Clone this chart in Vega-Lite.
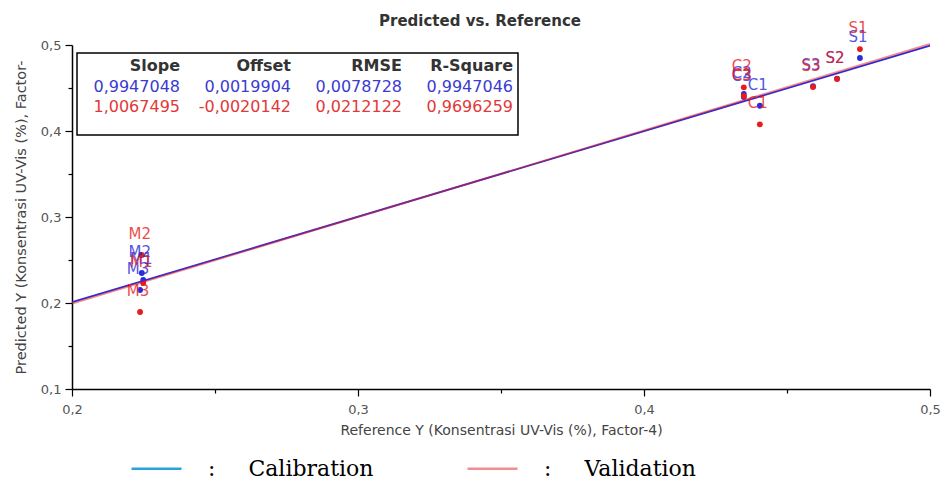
{
  "$schema": "https://vega.github.io/schema/vega-lite/v6.json",
  "width": 858,
  "height": 344,
  "autosize": {"type": "none"},
  "padding": {"left": 72, "top": 45, "right": 16, "bottom": 97},
  "background": "white",
  "config": {"view": {"stroke": null}, "font": "DejaVu Sans"},
  "title": {"text": "Predicted vs. Reference", "font": "DejaVu Sans", "fontSize": 15, "fontWeight": "bold", "color": "#333333", "anchor": "middle", "frame": "group", "dx": -21, "dy": 25, "offset": 17},
  "datasets": {
    "points": [
      {"sample": "M1", "set": "Calibration", "ref": 0.2249, "pred": 0.2267},
      {"sample": "M2", "set": "Calibration", "ref": 0.2244, "pred": 0.2349},
      {"sample": "M3", "set": "Calibration", "ref": 0.2238, "pred": 0.2151},
      {"sample": "C1", "set": "Calibration", "ref": 0.4405, "pred": 0.4294},
      {"sample": "C2", "set": "Calibration", "ref": 0.4349, "pred": 0.4430},
      {"sample": "C3", "set": "Calibration", "ref": 0.4349, "pred": 0.4395},
      {"sample": "S1", "set": "Calibration", "ref": 0.4755, "pred": 0.4849},
      {"sample": "S2", "set": "Calibration", "ref": 0.4675, "pred": 0.4610},
      {"sample": "S3", "set": "Calibration", "ref": 0.4591, "pred": 0.4520},
      {"sample": "M1", "set": "Validation", "ref": 0.2249, "pred": 0.2233},
      {"sample": "M2", "set": "Validation", "ref": 0.2244, "pred": 0.2558},
      {"sample": "M3", "set": "Validation", "ref": 0.2238, "pred": 0.1895},
      {"sample": "C1", "set": "Validation", "ref": 0.4405, "pred": 0.4078},
      {"sample": "C2", "set": "Validation", "ref": 0.4349, "pred": 0.4508},
      {"sample": "C3", "set": "Validation", "ref": 0.4349, "pred": 0.4407},
      {"sample": "S1", "set": "Validation", "ref": 0.4755, "pred": 0.4953},
      {"sample": "S2", "set": "Validation", "ref": 0.4675, "pred": 0.4605},
      {"sample": "S3", "set": "Validation", "ref": 0.4591, "pred": 0.4512}
    ],
    "lines": [
      {"set": "Calibration", "ref": 0.2, "pred": 0.2009},
      {"set": "Calibration", "ref": 0.5, "pred": 0.4993},
      {"set": "Validation", "ref": 0.2, "pred": 0.1993},
      {"set": "Validation", "ref": 0.5, "pred": 0.5014}
    ],
    "table": [
      {"stat": "Slope", "set": "header", "text": "Slope"},
      {"stat": "Offset", "set": "header", "text": "Offset"},
      {"stat": "RMSE", "set": "header", "text": "RMSE"},
      {"stat": "R-Square", "set": "header", "text": "R-Square"},
      {"stat": "Slope", "set": "Calibration", "text": "0,9947048"},
      {"stat": "Offset", "set": "Calibration", "text": "0,0019904"},
      {"stat": "RMSE", "set": "Calibration", "text": "0,0078728"},
      {"stat": "R-Square", "set": "Calibration", "text": "0,9947046"},
      {"stat": "Slope", "set": "Validation", "text": "1,0067495"},
      {"stat": "Offset", "set": "Validation", "text": "-0,0020142"},
      {"stat": "RMSE", "set": "Validation", "text": "0,0212122"},
      {"stat": "R-Square", "set": "Validation", "text": "0,9696259"}
    ]
  },
  "layer": [
    {
      "layer": [
        {
          "data": {"values": [{}]},
          "mark": {"type": "rect", "fill": "white", "stroke": "black", "strokeWidth": 1.5},
          "encoding": {
            "x": {"datum": 0.20175, "type": "quantitative"},
            "x2": {"datum": 0.35594},
            "y": {"datum": 0.4907, "type": "quantitative"},
            "y2": {"datum": 0.3953}
          }
        },
        {
          "data": {"name": "points"},
          "mark": {"type": "circle", "size": 34, "opacity": 1, "strokeWidth": 0},
          "encoding": {
            "x": {
              "field": "ref", "type": "quantitative",
              "scale": {"domain": [0.2, 0.5], "nice": false, "zero": false},
              "axis": {
                "values": [0.2, 0.25, 0.3, 0.35, 0.4, 0.45, 0.5],
                "labelExpr": "round(datum.value*20) % 2 == 1 ? '' : replace(format(datum.value, '.1f'), '.', ',')",
                "tickSize": {"condition": {"test": "round(datum.value*20) % 2 == 1", "value": 4}, "value": 7},
                "grid": false, "domainColor": "black", "tickColor": "black", "domainWidth": 1.5, "tickWidth": 1.2,
                "labelColor": "#555555", "labelFontSize": 13, "labelPadding": 7, "labelFlush": false,
                "title": "Reference Y (Konsentrasi UV-Vis (%), Factor-4)", "titleFontSize": 14, "titleFontWeight": "normal", "titleColor": "#444444", "titlePadding": 7
              }
            },
            "y": {
              "field": "pred", "type": "quantitative",
              "scale": {"domain": [0.1, 0.5], "nice": false, "zero": false},
              "axis": {
                "values": [0.1, 0.15, 0.2, 0.25, 0.3, 0.35, 0.4, 0.45, 0.5],
                "labelExpr": "round(datum.value*20) % 2 == 1 ? '' : replace(format(datum.value, '.1f'), '.', ',')",
                "tickSize": {"condition": {"test": "round(datum.value*20) % 2 == 1", "value": 4}, "value": 7},
                "grid": false, "domainColor": "black", "tickColor": "black", "domainWidth": 1.5, "tickWidth": 1.2,
                "labelColor": "#555555", "labelFontSize": 13, "labelPadding": 4, "labelFlush": false,
                "title": "Predicted Y (Konsentrasi UV-Vis (%), Factor-", "titleFontSize": 14.5, "titleFontWeight": "normal", "titleColor": "#444444", "titlePadding": 12
              }
            },
            "color": {
              "field": "set", "type": "nominal",
              "scale": {"domain": ["Calibration", "Validation"], "range": ["#2b2bdb", "#e81c1c"]},
              "legend": null
            },
            "stroke": {
              "field": "set", "type": "nominal",
              "scale": {"domain": ["Calibration", "Validation"], "range": ["#29a3dc", "#e21f2a"]},
              "legend": {
                "orient": "none", "legendX": 58, "legendY": 397, "direction": "horizontal", "title": null,
                "symbolType": "stroke", "symbolSize": 2500, "symbolStrokeWidth": 2.5, "symbolOpacity": 1,
                "labelFont": "DejaVu Serif", "labelFontSize": 22, "labelColor": "black", "labelOffset": 25, "labelLimit": 400,
                "columnPadding": 88, "padding": 0,
                "labelExpr": "':\u2003\u2002' + datum.label",
                "encode": {"symbols": {"update": {"strokeWidth": {"value": 2.5}, "strokeOpacity": {"value": 1}, "opacity": {"value": 1}}}}
              }
            }
          }
        },
        {
          "data": {"name": "lines"},
          "mark": {"type": "line", "strokeWidth": 1.8},
          "encoding": {
            "x": {"field": "ref", "type": "quantitative"},
            "y": {"field": "pred", "type": "quantitative"},
            "color": {"field": "set", "type": "nominal", "legend": null},
            "opacity": {"field": "set", "type": "nominal", "scale": {"domain": ["Calibration", "Validation"], "range": [1, 0.5]}, "legend": null}
          }
        },
        {
          "data": {"name": "points"},
          "mark": {"type": "text", "fontSize": 15, "align": "center", "baseline": "middle", "dy": -21, "dx": -2, "opacity": 0.8},
          "encoding": {
            "x": {"field": "ref", "type": "quantitative"},
            "y": {"field": "pred", "type": "quantitative"},
            "text": {"field": "sample"},
            "color": {"field": "set", "type": "nominal", "legend": null}
          }
        }
      ]
    },
    {
      "data": {"name": "table"},
      "transform": [{"filter": "datum.set == 'header'"}],
      "mark": {"type": "text", "fontSize": 16, "fontWeight": "bold", "align": "right", "baseline": "middle", "color": "#333333"},
      "encoding": {
        "x": {"field": "stat", "type": "nominal", "scale": {"type": "point", "domain": ["Slope", "Offset", "RMSE", "R-Square"], "range": [108, 441], "padding": 0}, "axis": null},
        "y": {"field": "set", "type": "nominal", "scale": {"type": "point", "domain": ["header", "Calibration", "Validation"], "range": [21, 62], "padding": 0}, "axis": null},
        "text": {"field": "text"}
      }
    },
    {
      "data": {"name": "table"},
      "transform": [{"filter": "datum.set != 'header'"}],
      "mark": {"type": "text", "fontSize": 16, "align": "right", "baseline": "middle"},
      "encoding": {
        "x": {"field": "stat", "type": "nominal", "scale": {"type": "point", "domain": ["Slope", "Offset", "RMSE", "R-Square"], "range": [108, 441], "padding": 0}, "axis": null},
        "y": {"field": "set", "type": "nominal", "scale": {"type": "point", "domain": ["header", "Calibration", "Validation"], "range": [21, 62], "padding": 0}, "axis": null},
        "text": {"field": "text"},
        "color": {"field": "set", "type": "nominal", "scale": {"domain": ["Calibration", "Validation"], "range": ["#3b3bd0", "#e23838"]}, "legend": null}
      }
    }
  ],
  "resolve": {"scale": {"x": "independent", "y": "independent", "color": "independent"}}
}
